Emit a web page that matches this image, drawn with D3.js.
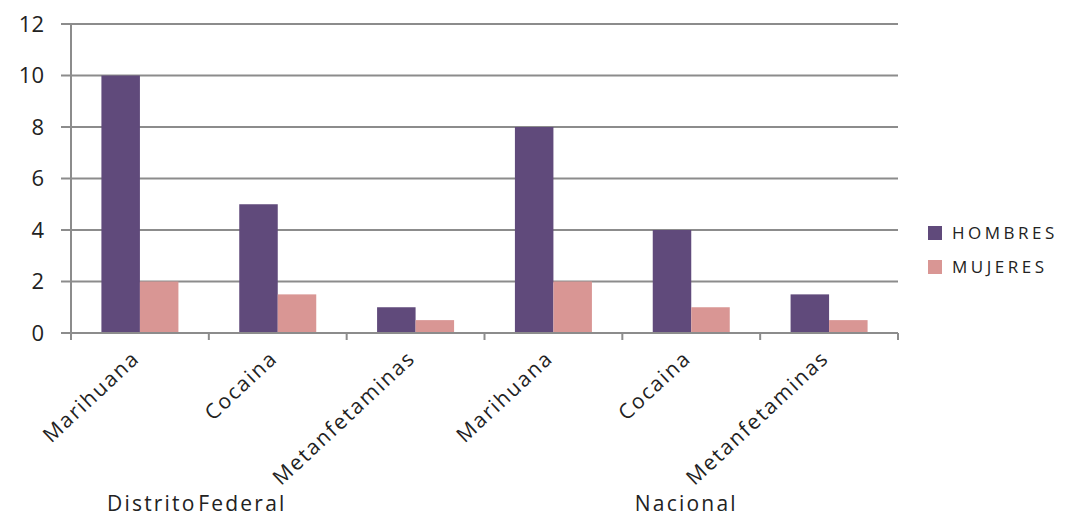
<!DOCTYPE html>
<html>
<head>
<meta charset="utf-8">
<script src="https://cdn.jsdelivr.net/npm/d3@7"></script>
<style>
  body { margin: 0; background: #fff; }
  text { font-family: "Open Sans", sans-serif; fill: #222; }
</style>
</head>
<body>
<div id="chart"></div>
<script>
// data
var categories = ["Marihuana", "Cocaina", "Metanfetaminas", "Marihuana ", "Cocaina ", "Metanfetaminas "];
var groups = ["Distrito Federal", "Nacional"];
var series = ["HOMBRES", "MUJERES"];
var hombres = [10, 5, 1, 8, 4, 1.5];
var mujeres = [2, 1.5, 0.5, 2, 1, 0.5];
var yTicks = [0, 2, 4, 6, 8, 10, 12];
var colors = ["#604a7b", "#d99694"];

const W = 1070, H = 519;
const margin = {top: 24, right: 172, bottom: 186, left: 71};
var width = W - margin.left - margin.right;
var height = H - margin.top - margin.bottom;

var svg = d3.select("#chart").append("svg")
    .attr("width", W)
    .attr("height", H);

var g = svg.append("g")
    .attr("transform", "translate(" + margin.left + "," + margin.top + ")");

var xScale = d3.scaleBand().domain(categories).range([0, width]);
var xInner = d3.scaleBand().domain(series).range([0, xScale.bandwidth()])
    .paddingInner(0).paddingOuter(0.79);
var yScale = d3.scaleLinear().domain([0, 12]).range([height, 0]);

// gridlines + y ticks
g.append("g")
    .selectAll("line")
    .data(yTicks)
    .enter()
    .append("line")
    .attr("x1", -10)
    .attr("x2", width)
    .attr("y1", d => yScale(d))
    .attr("y2", d => yScale(d))
    .attr("stroke", "#8c8c8c")
    .attr("stroke-width", 2);

g.append("g")
    .selectAll("text")
    .data(yTicks)
    .enter()
    .append("text")
    .attr("x", -27)
    .attr("y", d => yScale(d))
    .attr("dy", "0.36em")
    .attr("text-anchor", "end")
    .style("font-size", "22px")
    .text(d => d);

// bars
var rows = categories.map((c, i) => ({cat: c, vals: [hombres[i], mujeres[i]]}));
var cat = g.append("g").selectAll("g")
    .data(rows)
    .enter()
    .append("g")
    .attr("transform", d => "translate(" + xScale(d.cat) + ",0)");

cat.selectAll("rect")
    .data(d => d.vals.map((v, j) => ({s: series[j], v: v, j: j})))
    .enter()
    .append("rect")
    .attr("x", d => xInner(d.s))
    .attr("y", d => yScale(d.v))
    .attr("width", xInner.bandwidth())
    .attr("height", d => height - yScale(d.v))
    .attr("fill", d => colors[d.j]);

// axes lines
g.append("line")
    .attr("x1", 0).attr("x2", 0)
    .attr("y1", 0).attr("y2", height + 7)
    .attr("stroke", "#8c8c8c").attr("stroke-width", 2);
g.append("line")
    .attr("x1", -10).attr("x2", width)
    .attr("y1", height).attr("y2", height)
    .attr("stroke", "#8c8c8c").attr("stroke-width", 2);

var xTickPos = categories.map(c => xScale(c)).concat([width]);
g.append("g").selectAll("line")
    .data(xTickPos)
    .enter()
    .append("line")
    .attr("x1", d => d).attr("x2", d => d)
    .attr("y1", height).attr("y2", height + 7)
    .attr("stroke", "#8c8c8c").attr("stroke-width", 2);

// category labels, rotated
g.append("g").selectAll("text")
    .data(categories)
    .enter()
    .append("text")
    .attr("transform", d => "translate(" + (xScale(d) + xScale.bandwidth() / 2 + 1) + "," + (height + 27) + ") rotate(-43)")
    .attr("text-anchor", "end")
    .style("font-size", "21px")
    .style("letter-spacing", "1.8px")
    .text(d => d.trim());

// group labels
g.append("text")
    .attr("x", xScale(categories[0]) + 36)
    .attr("y", height + 178)
    .style("font-size", "21px")
    .style("letter-spacing", "2.2px")
    .style("word-spacing", "-6px")
    .text(groups[0]);
g.append("text")
    .attr("x", xScale(categories[4]) + 64)
    .attr("y", height + 178)
    .attr("text-anchor", "middle")
    .style("font-size", "21px")
    .style("letter-spacing", "2.2px")
    .text(groups[1]);

// legend
var legend = svg.append("g")
    .attr("transform", "translate(928,226)");
var li = legend.selectAll("g")
    .data(series)
    .enter()
    .append("g")
    .attr("transform", (d, i) => "translate(0," + (i * 34) + ")");
li.append("rect")
    .attr("width", 14)
    .attr("height", 14)
    .attr("fill", (d, i) => colors[i]);
li.append("text")
    .attr("x", 24)
    .attr("y", 7)
    .attr("dy", "0.36em")
    .style("font-size", "17px")
    .style("letter-spacing", "3.5px")
    .text(d => d);
</script>
</body>
</html>
